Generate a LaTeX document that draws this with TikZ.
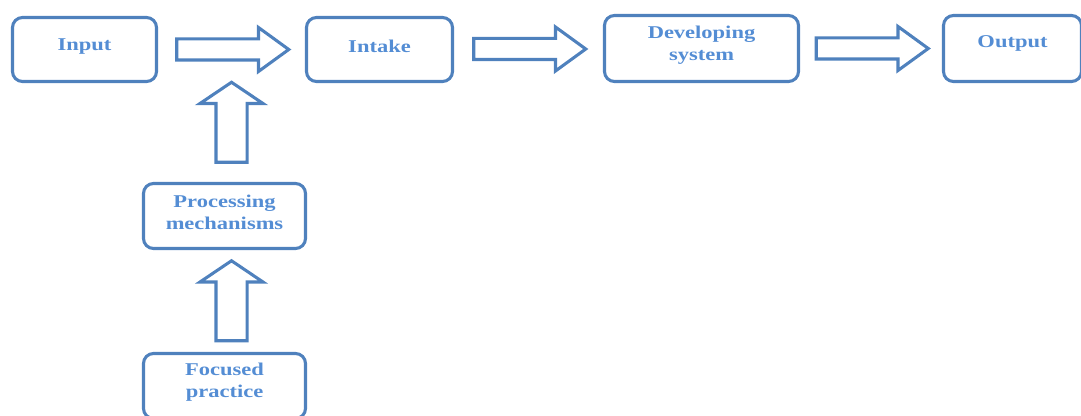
\documentclass[tikz,border=0pt]{standalone}
\usepackage{fontspec}
\setmainfont{Liberation Serif}
\newfontfamily\boxfont[FakeStretch=1.25]{Liberation Serif}
\usepackage{tikz}
\usetikzlibrary{shapes.arrows}
\usetikzlibrary{calc}
\definecolor{boxblue}{RGB}{79,129,189}
\definecolor{textblue}{RGB}{84,141,212}
\tikzset{
  box/.style={draw=boxblue, line width=2.3pt, rounded corners=7.5pt, inner sep=0pt},
  boxtext/.style={text=textblue, font={\boxfont\bfseries\fontsize{13.5pt}{16.5pt}\selectfont}, align=center, yshift=2.5pt},
  blockarrow/.style={single arrow, draw=boxblue, line width=2.3pt, inner xsep=0pt},
  harrow/.style={blockarrow, inner ysep=6.75pt, minimum height=84pt, single arrow head extend=8.6pt, single arrow tip angle=72},
  varrow/.style={blockarrow, rotate=90, inner ysep=10.5pt, minimum height=60pt, single arrow head extend=12pt, single arrow tip angle=112}
}

\begin{document}
\begin{tikzpicture}[x=0.75pt, y=-0.75pt]
    % Picture frame, in pixels of the original figure.
    \clip (0,0) rectangle (1081,416);
    % The boxes of the main row.
    \node[box, minimum width=108pt, minimum height=48pt, label={[boxtext]center:Input}] (input) at (84.5,49.5) {};
    \node[box, minimum width=109.5pt, minimum height=48pt, label={[boxtext]center:Intake}] (intake) at (379.5,49.5) {};
    \node[box, minimum width=145.5pt, minimum height=49.5pt, label={[boxtext]center:{Developing\\system}}] (developing) at (701.5,48.5) {};
    \node[box, minimum width=103.5pt, minimum height=49.5pt, label={[boxtext, yshift=1.5pt]center:Output}] (output) at (1012.5,48.5) {};
    % The boxes of the column under the input.
    \node[box, minimum width=121.5pt, minimum height=48.75pt, label={[boxtext]center:{Processing\\mechanisms}}] (processing) at (224.5,216) {};
    \node[box, minimum width=121.5pt, minimum height=48.75pt, label={[boxtext]center:{Focused\\practice}}] (focused) at (224.5,386) {};
    % The block arrows between them.
    \node[harrow] (toIntake) at ($(input.east)!0.5!(intake.west) + (-6,0)$) {};
    \node[harrow] (toDeveloping) at ($(intake.east)!0.5!(developing.west) + (-6,0)$) {};
    \node[harrow] (toOutput) at ($(developing.east)!0.5!(output.west) + (-6,0)$) {};
    \node[varrow] (fromProcessing) at ($(input.south -| processing.north)!0.5!(processing.north) + (7,-5)$) {};
    \node[varrow] (fromFocused) at ($(processing.south)!0.5!(focused.north) + (7,5)$) {};
\end{tikzpicture}
\end{document}
